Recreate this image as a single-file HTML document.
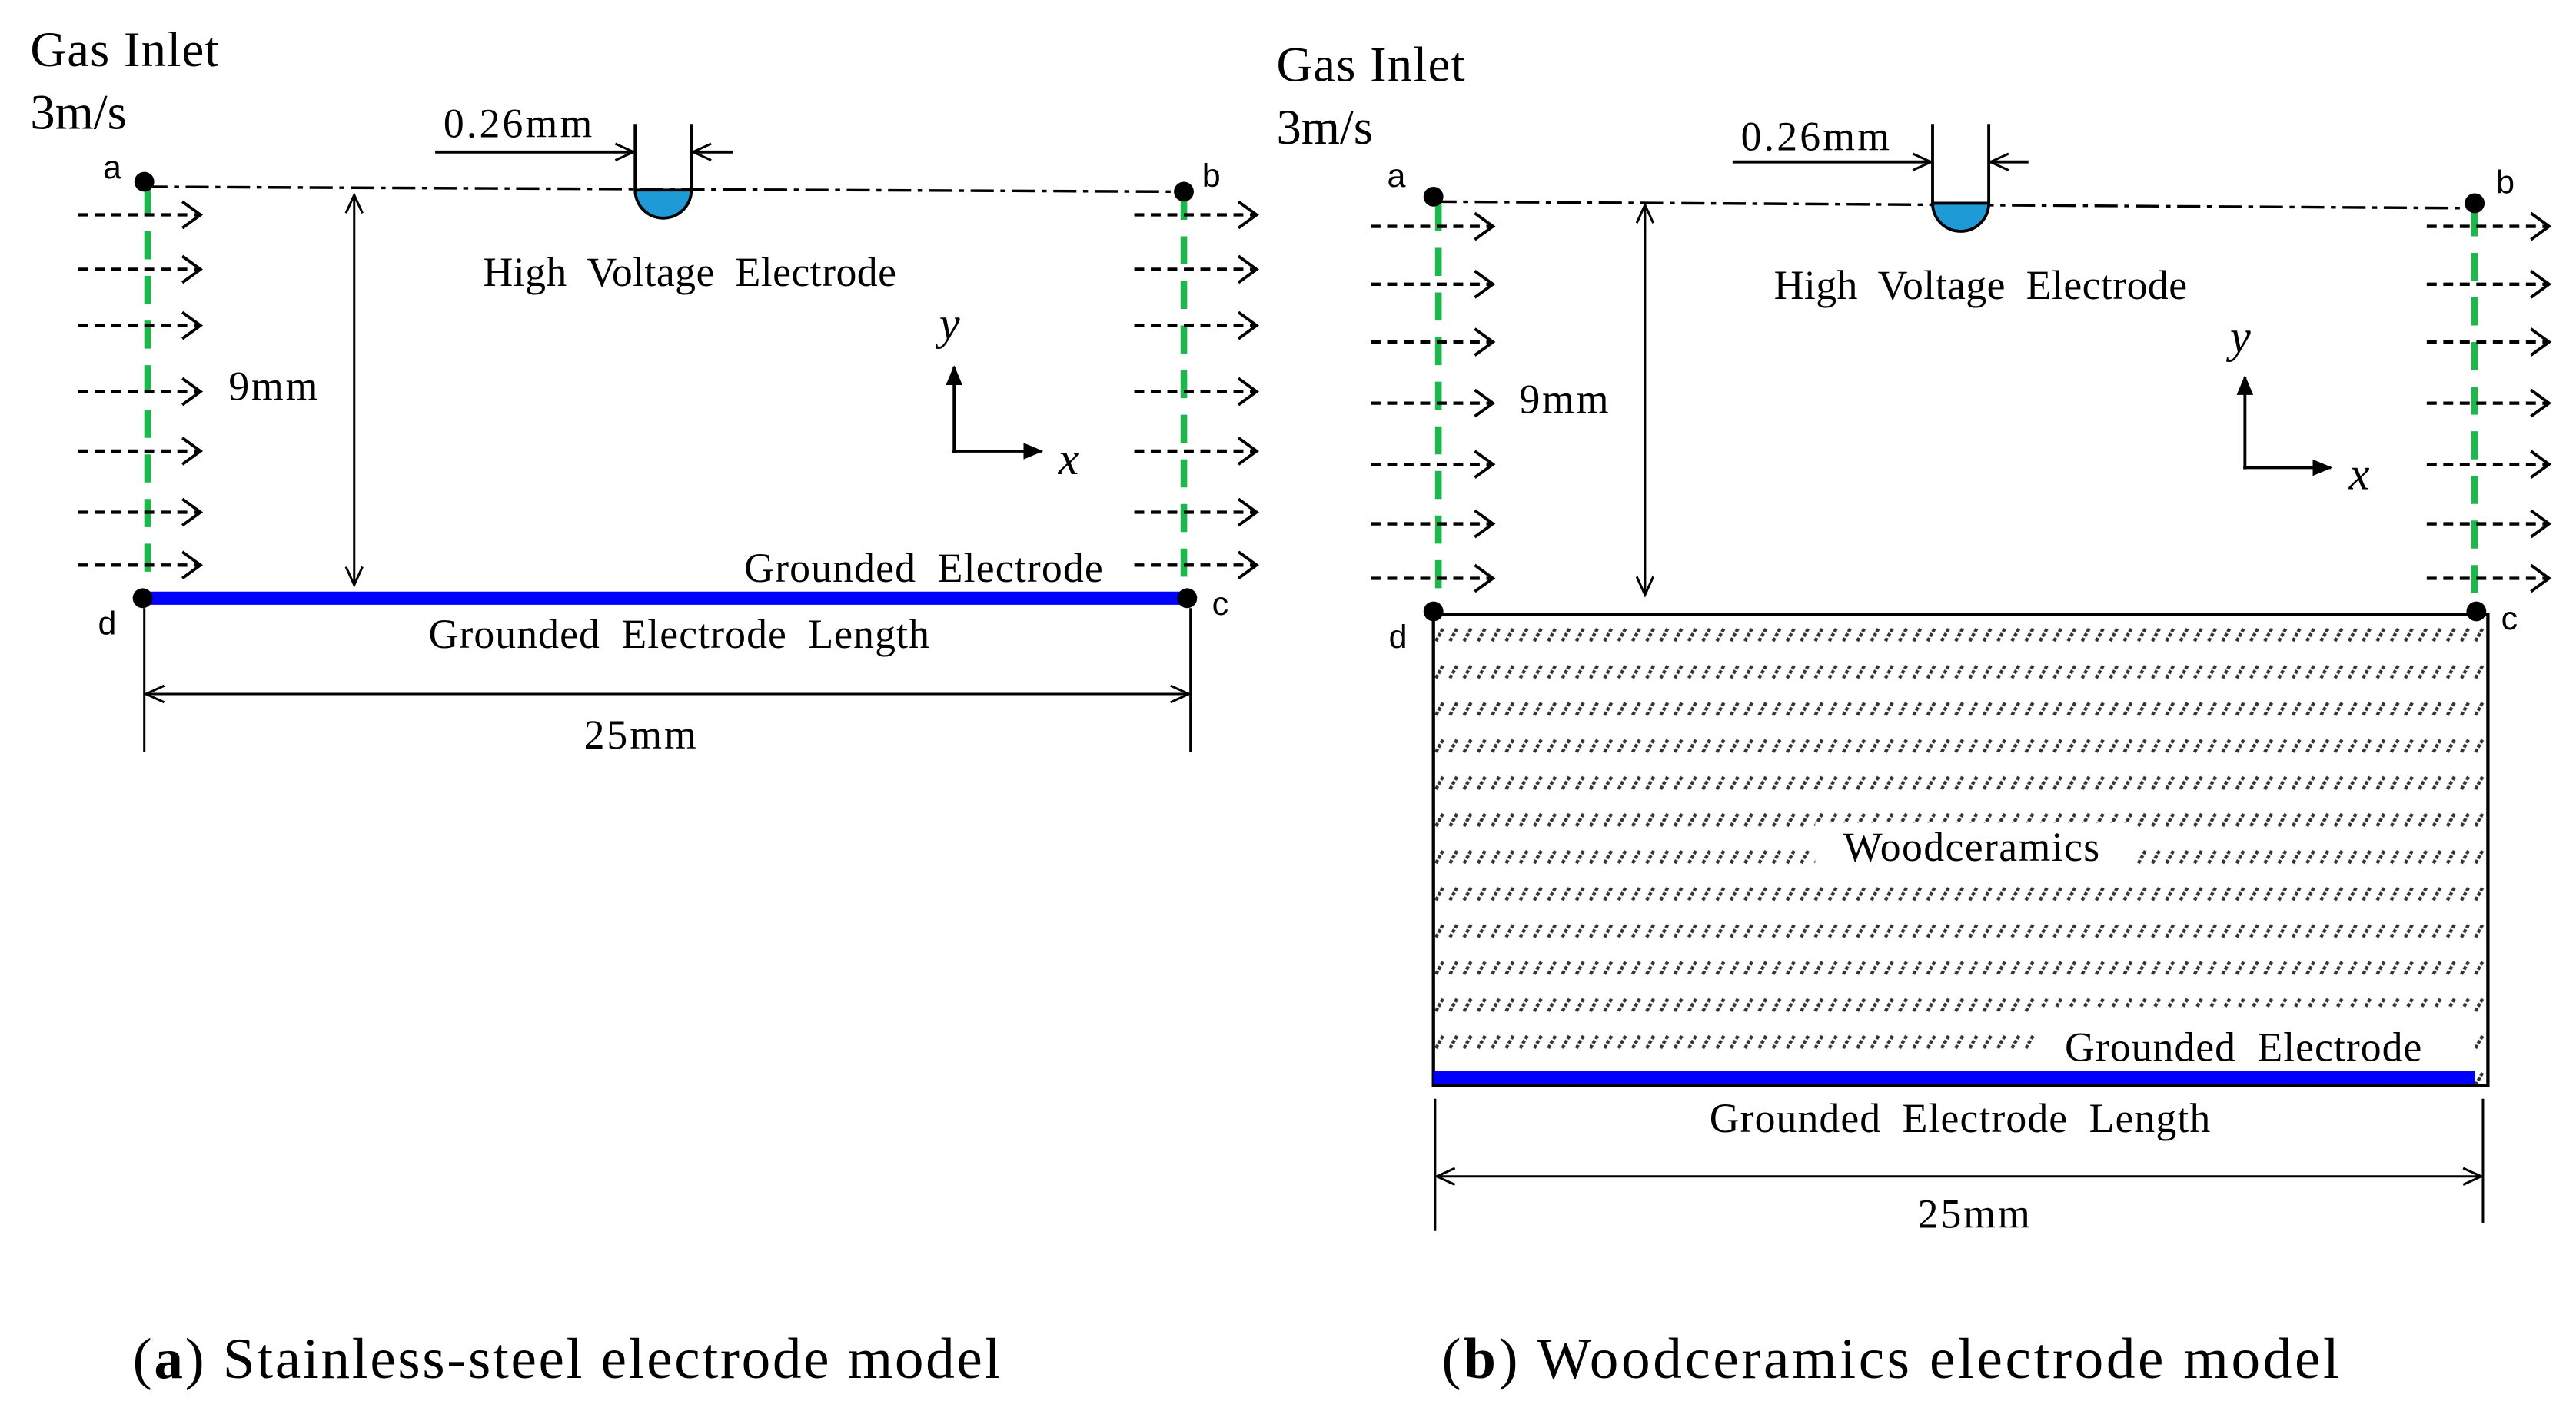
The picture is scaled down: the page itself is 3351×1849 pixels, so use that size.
<!DOCTYPE html>
<html><head><meta charset="utf-8"><style>html,body{margin:0;padding:0;background:#fff}svg{display:block}</style></head>
<body>
<svg width="3351" height="1849" viewBox="0 0 1558 860" xmlns="http://www.w3.org/2000/svg" font-family="'Liberation Serif',serif">
<defs>
<marker id="oa" markerWidth="16" markerHeight="20" refX="13" refY="9" orient="auto" markerUnits="userSpaceOnUse"><path d="M2,1 L13,9 L2,17" fill="none" stroke="#000" stroke-width="1.8"/></marker>
<marker id="ob" markerWidth="14" markerHeight="14" refX="12" refY="7" orient="auto-start-reverse" markerUnits="userSpaceOnUse"><path d="M1,2 L12,7 L1,12" fill="none" stroke="#000" stroke-width="1.4"/></marker>
<marker id="fa" markerWidth="12" markerHeight="12" refX="11" refY="6" orient="auto" markerUnits="userSpaceOnUse"><path d="M0,1 L12,6 L0,11 Z" fill="#000"/></marker>
<pattern id="h" width="8.5" height="22.4" patternUnits="userSpaceOnUse" x="867" y="378"><path d="M1.5,10 L6,2" stroke="#333" stroke-width="2" stroke-dasharray="2.2,1"/></pattern>
</defs>

<g font-size="30"><text x="18" y="40" textLength="114">Gas Inlet</text><text x="18" y="78">3m/s</text>
<text x="772" y="49" textLength="114">Gas Inlet</text><text x="772" y="87">3m/s</text></g>

<!-- PANEL A -->
<line x1="87" y1="113" x2="716" y2="116" stroke="#000" stroke-width="1.6" stroke-dasharray="14,4,3,4"/>
<line x1="89" y1="113" x2="89" y2="356" stroke="#1db84c" stroke-width="4" stroke-dasharray="17,10"/>
<line x1="716" y1="116" x2="716" y2="356" stroke="#1db84c" stroke-width="4" stroke-dasharray="17,10"/>
<g stroke="#000" stroke-width="2" stroke-dasharray="6,4" marker-end="url(#oa)">
<line x1="47" y1="130" x2="121" y2="130"/><line x1="47" y1="163" x2="121" y2="163"/><line x1="47" y1="197" x2="121" y2="197"/><line x1="47" y1="237" x2="121" y2="237"/><line x1="47" y1="273" x2="121" y2="273"/><line x1="47" y1="310" x2="121" y2="310"/><line x1="47" y1="342" x2="121" y2="342"/>
<line x1="686" y1="130" x2="760" y2="130"/><line x1="686" y1="163" x2="760" y2="163"/><line x1="686" y1="197" x2="760" y2="197"/><line x1="686" y1="237" x2="760" y2="237"/><line x1="686" y1="273" x2="760" y2="273"/><line x1="686" y1="310" x2="760" y2="310"/><line x1="686" y1="342" x2="760" y2="342"/>
</g>
<line x1="86" y1="362" x2="718" y2="362" stroke="#0000ff" stroke-width="8"/>
<circle cx="87" cy="110" r="6"/><circle cx="716" cy="116" r="6"/><circle cx="718" cy="362" r="6"/><circle cx="86" cy="362" r="6"/>
<g font-family="'Liberation Sans',sans-serif" font-size="20"><text x="62" y="108">a</text><text x="727" y="113">b</text><text x="733" y="372">c</text><text x="59" y="384">d</text></g>
<path d="M384,115 A17,17 0 0 0 418,115 Z" fill="#1e9ad6" stroke="#000" stroke-width="1.8"/>
<g stroke="#000" stroke-width="1.8"><line x1="384" y1="75" x2="384" y2="115"/><line x1="418" y1="75" x2="418" y2="115"/><line x1="418" y1="92" x2="443" y2="92"/></g>
<line x1="263" y1="92" x2="383" y2="92" stroke="#000" stroke-width="1.8" marker-end="url(#ob)"/>
<line x1="445" y1="92" x2="419" y2="92" stroke="none" marker-end="url(#ob)"/>
<line x1="214" y1="118" x2="214" y2="354" stroke="#000" stroke-width="1.4" marker-start="url(#ob)" marker-end="url(#ob)"/>
<g stroke="#000" stroke-width="1.4"><line x1="87" y1="368" x2="87" y2="455"/><line x1="720" y1="368" x2="720" y2="455"/></g>
<line x1="88" y1="420" x2="719" y2="420" stroke="#000" stroke-width="1.4" marker-start="url(#ob)" marker-end="url(#ob)"/>
<g stroke="#000" stroke-width="1.8"><line x1="577" y1="274" x2="577" y2="222" marker-end="url(#fa)"/><line x1="576" y1="273" x2="630" y2="273" marker-end="url(#fa)"/></g>
<g font-size="25" word-spacing="6">
<text x="268" y="83" textLength="90">0.26mm</text>
<text x="292" y="173" textLength="250">High Voltage Electrode</text>
<text x="138" y="242" textLength="54">9mm</text>
<text x="450" y="352" textLength="217">Grounded Electrode</text>
<text x="259" y="392" textLength="303">Grounded Electrode Length</text>
<text x="353" y="453" textLength="68">25mm</text>
<text x="568" y="205" font-style="italic" font-size="28">y</text>
<text x="640" y="287" font-style="italic" font-size="28">x</text>
</g>

<!-- PANEL B -->
<rect x="867" y="372" width="638" height="285" fill="url(#h)" stroke="#000" stroke-width="2"/>
<rect x="1098" y="498" width="194" height="30" fill="#fff"/>
<rect x="1233" y="610" width="262" height="38" fill="#fff"/>
<line x1="867" y1="122" x2="1497" y2="126" stroke="#000" stroke-width="1.6" stroke-dasharray="14,4,3,4"/>
<line x1="870" y1="123" x2="870" y2="362" stroke="#1db84c" stroke-width="4" stroke-dasharray="17,10"/>
<line x1="1497" y1="126" x2="1497" y2="362" stroke="#1db84c" stroke-width="4" stroke-dasharray="17,10"/>
<g stroke="#000" stroke-width="2" stroke-dasharray="6,4" marker-end="url(#oa)">
<line x1="829" y1="137" x2="903" y2="137"/><line x1="829" y1="172" x2="903" y2="172"/><line x1="829" y1="207" x2="903" y2="207"/><line x1="829" y1="244" x2="903" y2="244"/><line x1="829" y1="281" x2="903" y2="281"/><line x1="829" y1="317" x2="903" y2="317"/><line x1="829" y1="350" x2="903" y2="350"/>
<line x1="1468" y1="137" x2="1542" y2="137"/><line x1="1468" y1="172" x2="1542" y2="172"/><line x1="1468" y1="207" x2="1542" y2="207"/><line x1="1468" y1="244" x2="1542" y2="244"/><line x1="1468" y1="281" x2="1542" y2="281"/><line x1="1468" y1="317" x2="1542" y2="317"/><line x1="1468" y1="350" x2="1542" y2="350"/>
</g>
<line x1="867" y1="652" x2="1497" y2="652" stroke="#0000ff" stroke-width="8"/>
<circle cx="867" cy="119" r="6"/><circle cx="1497" cy="123" r="6"/><circle cx="1498" cy="370" r="6"/><circle cx="867" cy="370" r="6"/>
<g font-family="'Liberation Sans',sans-serif" font-size="20"><text x="839" y="113">a</text><text x="1510" y="117">b</text><text x="1513" y="381">c</text><text x="840" y="392">d</text></g>
<path d="M1169,123 A17,17 0 0 0 1203,123 Z" fill="#1e9ad6" stroke="#000" stroke-width="1.8"/>
<g stroke="#000" stroke-width="1.8"><line x1="1169" y1="75" x2="1169" y2="123"/><line x1="1203" y1="75" x2="1203" y2="123"/><line x1="1203" y1="98" x2="1227" y2="98"/></g>
<line x1="1048" y1="98" x2="1168" y2="98" stroke="#000" stroke-width="1.8" marker-end="url(#ob)"/>
<line x1="1229" y1="98" x2="1204" y2="98" stroke="none" marker-end="url(#ob)"/>
<line x1="995" y1="124" x2="995" y2="360" stroke="#000" stroke-width="1.4" marker-start="url(#ob)" marker-end="url(#ob)"/>
<g stroke="#000" stroke-width="1.4"><line x1="868" y1="665" x2="868" y2="745"/><line x1="1502" y1="665" x2="1502" y2="740"/></g>
<line x1="869" y1="712" x2="1501" y2="712" stroke="#000" stroke-width="1.4" marker-start="url(#ob)" marker-end="url(#ob)"/>
<g stroke="#000" stroke-width="1.8"><line x1="1358" y1="284" x2="1358" y2="228" marker-end="url(#fa)"/><line x1="1357" y1="283" x2="1410" y2="283" marker-end="url(#fa)"/></g>
<g font-size="25" word-spacing="6">
<text x="1053" y="91" textLength="90">0.26mm</text>
<text x="1073" y="181" textLength="250">High Voltage Electrode</text>
<text x="919" y="250" textLength="54">9mm</text>
<text x="1115" y="521" textLength="155">Woodceramics</text>
<text x="1249" y="642" textLength="216">Grounded Electrode</text>
<text x="1034" y="685" textLength="303">Grounded Electrode Length</text>
<text x="1160" y="743" textLength="68">25mm</text>
<text x="1349" y="213" font-style="italic" font-size="28">y</text>
<text x="1421" y="296" font-style="italic" font-size="28">x</text>
</g>

<g font-size="35">
<text x="80" y="834" textLength="525">(<tspan font-weight="bold">a</tspan>) Stainless-steel electrode model</text>
<text x="872" y="834" textLength="543">(<tspan font-weight="bold">b</tspan>) Woodceramics electrode model</text>
</g>
</svg>
</body></html>
